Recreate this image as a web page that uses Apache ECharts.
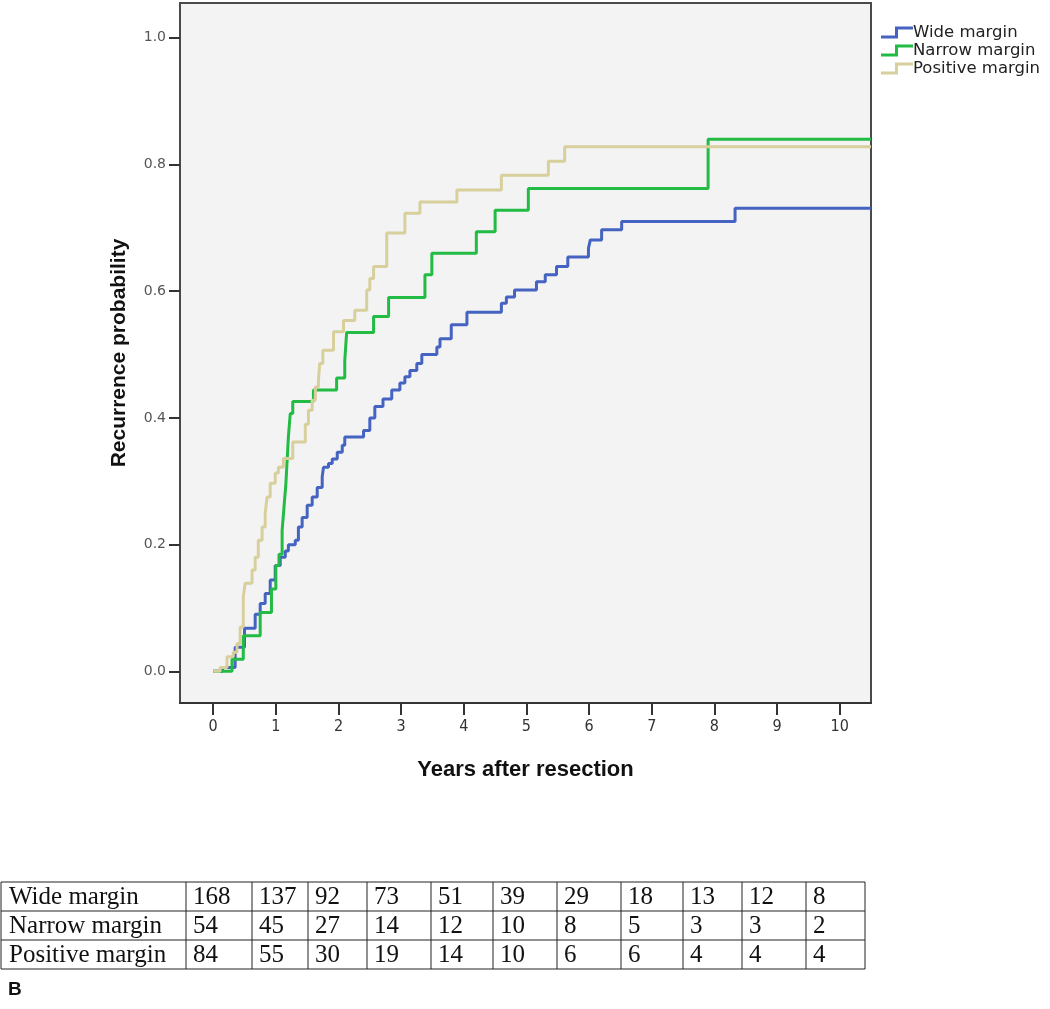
<!DOCTYPE html>
<html>
<head>
<meta charset="utf-8">
<script src="https://cdn.jsdelivr.net/npm/echarts@6/dist/echarts.min.js"></script>
<style>
html,body{margin:0;padding:0;background:#fff;}
#chart{width:1050px;height:1009px;}
</style>
</head>
<body>
<div id="chart"></div>
<script>
// ---------- DATA ----------
const seriesNames = ['Wide margin', 'Narrow margin', 'Positive margin'];

const wideTimes = [0,0.15,0.35,0.5,0.67,0.75,0.83,0.91,0.99,1.07,1.15,1.2,1.31,1.36,1.42,1.5,1.58,1.66,1.74,1.76,1.84,1.9,1.98,2.06,2.1,2.4,2.5,2.58,2.71,2.85,2.98,3.06,3.14,3.25,3.33,3.57,3.62,3.8,4.05,4.6,4.68,4.81,5.16,5.3,5.48,5.66,5.99,6.02,6.2,6.52,8.33,10.5];
const wideProb  = [0,0.006,0.038,0.068,0.09,0.107,0.123,0.144,0.167,0.18,0.19,0.2,0.207,0.228,0.243,0.262,0.275,0.29,0.307,0.322,0.328,0.335,0.346,0.357,0.37,0.38,0.40,0.418,0.43,0.444,0.455,0.465,0.475,0.486,0.5,0.512,0.525,0.547,0.567,0.581,0.591,0.602,0.615,0.626,0.639,0.654,0.668,0.681,0.697,0.71,0.731,0.731];

const narrowTimes = [0,0.3,0.48,0.75,0.93,1.0,1.05,1.1,1.13,1.16,1.18,1.2,1.23,1.27,1.6,1.97,2.1,2.13,2.56,2.8,3.38,3.49,4.2,4.5,5.03,7.9,10.5];
const narrowProb  = [0,0.019,0.056,0.093,0.13,0.167,0.185,0.222,0.259,0.296,0.333,0.37,0.407,0.426,0.444,0.463,0.49,0.535,0.56,0.59,0.626,0.66,0.694,0.728,0.762,0.84,0.84];

const positiveTimes = [0,0.11,0.22,0.32,0.38,0.43,0.48,0.51,0.62,0.67,0.72,0.78,0.83,0.86,0.91,0.99,1.04,1.12,1.27,1.47,1.52,1.58,1.63,1.68,1.7,1.75,1.92,2.08,2.26,2.45,2.5,2.56,2.77,3.06,3.3,3.89,4.6,5.35,5.61,10.5];
const positiveProb  = [0,0.006,0.023,0.03,0.044,0.07,0.117,0.139,0.16,0.18,0.207,0.228,0.25,0.275,0.297,0.313,0.322,0.336,0.362,0.39,0.412,0.428,0.449,0.46,0.486,0.507,0.536,0.554,0.57,0.602,0.62,0.639,0.692,0.723,0.741,0.76,0.783,0.805,0.828,0.828];

const xTicks = [0,1,2,3,4,5,6,7,8,9,10];
const yTicks = [0,0.2,0.4,0.6,0.8,1.0];

const tableRowLabels = ['Wide margin', 'Narrow margin', 'Positive margin'];
const wideAtRisk     = [168,137,92,73,51,39,29,18,13,12,8];
const narrowAtRisk   = [54,45,27,14,12,10,8,5,3,3,2];
const positiveAtRisk = [84,55,30,19,14,10,6,6,4,4,4];
const panelLabel = 'B';

// ---------- LAYOUT / STYLE ----------
const colors = ['#4563c1', '#22bb44', '#d8d09c'];
const tableCols = [1, 186, 252, 308, 367, 431, 493, 557, 621, 683, 742, 806, 865];
const tableRowsY = [882, 911, 940, 969];

function zip(t, p){ return t.map((v,i)=>[v, p[i]]); }
const stepIcon = 'path://M0,9 L14,9 L14,0 L32,0 L32,3 L17,3 L17,12 L0,12 Z';

const series = [
  {name: seriesNames[0], data: zip(wideTimes, wideProb)},
  {name: seriesNames[1], data: zip(narrowTimes, narrowProb)},
  {name: seriesNames[2], data: zip(positiveTimes, positiveProb)}
].map((s,i)=>({
  type:'line', name:s.name, data:s.data, step:'end', showSymbol:false, symbol:'none',
  lineStyle:{color:colors[i], width:3}, itemStyle:{color:colors[i]},
  animation:false, z: 3 + i
}));

// table graphics
const tableData = [wideAtRisk, narrowAtRisk, positiveAtRisk];
const graphics = [];
const lineStyle = {stroke:'#222', lineWidth:1};
const tableFont = '25px "Liberation Serif", "Times New Roman", serif';
tableRowsY.forEach(y=>{
  graphics.push({type:'line', shape:{x1:tableCols[0], y1:y, x2:tableCols[tableCols.length-1], y2:y}, style:lineStyle, silent:true});
});
tableCols.forEach(x=>{
  graphics.push({type:'line', shape:{x1:x, y1:tableRowsY[0], x2:x, y2:tableRowsY[tableRowsY.length-1]}, style:lineStyle, silent:true});
});
tableRowLabels.forEach((lab, r)=>{
  const yc = (tableRowsY[r] + tableRowsY[r+1]) / 2;
  graphics.push({type:'text', x:tableCols[0] + 8, y: yc + 1,
    style:{text:lab, font:tableFont, fill:'#111', verticalAlign:'middle'}});
  tableData[r].forEach((v, c)=>{
    graphics.push({type:'text', x:tableCols[c+1] + 7, y: yc + 1,
      style:{text:String(v), font:tableFont, fill:'#111', verticalAlign:'middle'}});
  });
});
graphics.push({type:'text', left:8, top:980,
  style:{text:panelLabel, font:'bold 19px "Liberation Sans", Arial, sans-serif', fill:'#111'}});

const chart = echarts.init(document.getElementById('chart'), null, {renderer:'canvas'});
chart.setOption({
  animation:false,
  backgroundColor:'#ffffff',
  grid:{left:180, top:3, width:691, height:700, show:true, backgroundColor:'#f3f3f3', borderColor:'#4a4a4a', borderWidth:2, containLabel:false},
  legend:{
    orient:'vertical', left:876, top:19, itemWidth:32, itemHeight:12, itemGap:1,
    icon: stepIcon,
    data: seriesNames,
    textStyle:{fontSize:16.5, lineHeight:16, color:'#222', fontFamily:'"DejaVu Sans", sans-serif', padding:[0,0,0,-5]}
  },
  xAxis:{
    type:'value', min:-0.53, max:10.5,
    name:'Years after resection', nameLocation:'middle', nameGap:56,
    nameTextStyle:{fontSize:22, fontWeight:'bold', color:'#111', fontFamily:'"Liberation Sans", Arial, sans-serif'},
    axisLine:{show:true, onZero:false, lineStyle:{color:'#333', width:2}},
    axisTick:{show:true, length:12, customValues:xTicks, lineStyle:{color:'#333', width:2}},
    axisLabel:{customValues:xTicks, fontSize:16, color:'#333', margin:16, fontFamily:'"Liberation Sans Narrow", "DejaVu Sans Condensed", "Liberation Sans", sans-serif'},
    splitLine:{show:false}
  },
  yAxis:{
    type:'value', min:-0.05, max:1.055,
    name:'Recurrence probability', nameLocation:'middle', nameGap:50, nameRotate:90,
    nameTextStyle:{fontSize:21, fontWeight:'bold', color:'#111', fontFamily:'"Liberation Sans", Arial, sans-serif'},
    axisLine:{show:false, onZero:false},
    axisTick:{show:true, length:11, customValues:yTicks, lineStyle:{color:'#333', width:2}},
    axisLabel:{customValues:yTicks, fontSize:14, color:'#555', margin:14, fontFamily:'"DejaVu Sans", sans-serif',
      formatter:(v)=>v.toFixed(1)},
    splitLine:{show:false}
  },
  series: series,
  graphic: graphics
});
</script>
</body>
</html>
